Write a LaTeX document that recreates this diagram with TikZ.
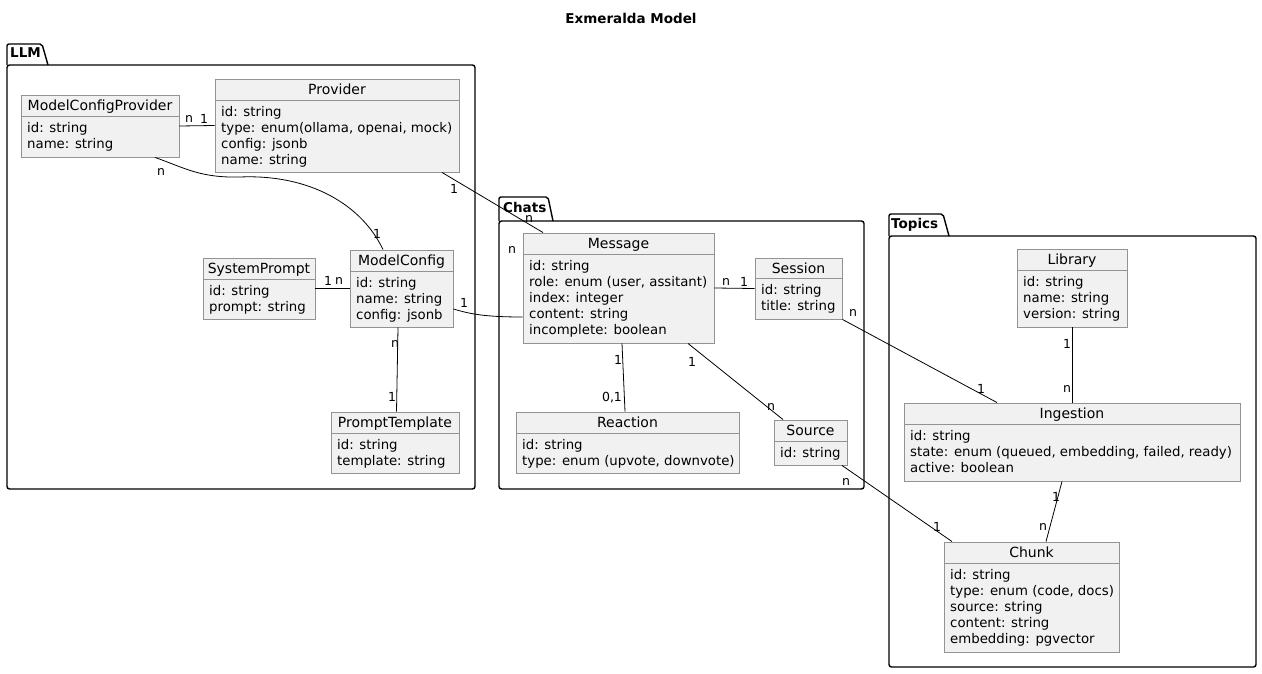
\documentclass[tikz,border=0pt]{standalone}
\usepackage{fontspec}
\setmainfont{DejaVu Sans}
\usetikzlibrary{fit,calc}
\definecolor{boxfill}{HTML}{F1F1F1}
\definecolor{boxline}{HTML}{939393}
\tikzset{
  clsbox/.style={draw=boxline, fill=boxfill, line width=0.9pt, inner sep=0pt},
  clssep/.style={draw=boxline, line width=0.9pt},
  clstitle/.style={font=\fontsize{14}{16}\selectfont, anchor=base, inner sep=0pt},
  clsattr/.style={font=\fontsize{13.3}{16}\selectfont, anchor=north west, align=left, inner sep=0pt},
  pkgbody/.style={draw=black, line width=1.4pt, rounded corners=2.5pt, inner sep=0pt},
  pkgtab/.style={draw=black, line width=1.4pt, rounded corners=2pt},
  pkglabel/.style={font=\bfseries\fontsize{13.5}{16}\selectfont, anchor=base west, inner sep=0pt},
  conn/.style={draw=black, line width=0.8pt},
  mult/.style={font=\fontsize{12.5}{14}\selectfont, inner sep=0pt},
}
% #1 name, #2 left, #3 top, #4 right, #5 bottom, #6 separator y, #7 title, #8 attributes
\newcommand\umlcls[8]{%
  \node[clsbox, fit={(#2,#3) (#4,#5)}] (#1) {};
  \draw[clssep] (#2,#6) -- (#4,#6);
  \node[clstitle] (#1-title) at ({(#2+#4)/2},{#3+15.5}) {#7};
  \node[clsattr] (#1-attrs) at ({#2+6},{#6+4.5}) {\rule{0pt}{12pt}#8};
}
\begin{document}
\begin{tikzpicture}[x=1pt,y=-1pt]
\useasboundingbox[fill=white] (0,0) rectangle (1262,674);

\node[font=\bfseries\fontsize{13.5}{16}\selectfont, inner sep=0pt] (title) at (631,18) {Exmeralda Model};

% packages
\draw[pkgtab] (7,65) |- (42,44) -- (48,65);
\node[pkgbody, fit={(7,65) (475,489)}] (llm) {};
\node[pkglabel] (llm-label) at (10,58) {LLM};

\draw[pkgtab] (499,221) |- (548,197) -- (553,221);
\node[pkgbody, fit={(499,221) (864,489)}] (chats) {};
\node[pkglabel] (chats-label) at (503,212) {Chats};

\draw[pkgtab] (889,236) |- (943,214) -- (949,236);
\node[pkgbody, fit={(889,236) (1256,667)}] (topics) {};
\node[pkglabel] (topics-label) at (891,229) {Topics};

% classes
\umlcls{mcp}{21}{95}{179}{157}{116}{ModelConfigProvider}{id: string\\name: string}
\umlcls{prov}{215}{79}{459}{172}{100}{Provider}{id: string\\type: enum(ollama, openai, mock)\\config: jsonb\\name: string}
\umlcls{sp}{203}{258}{315}{319}{279}{SystemPrompt}{id: string\\prompt: string}
\umlcls{mc}{350}{250}{453}{327}{271}{ModelConfig}{id: string\\name: string\\config: jsonb}
\umlcls{pt}{331}{412}{459}{473}{433}{PromptTemplate}{id: string\\template: string}
\umlcls{msg}{523}{233}{714}{343}{254}{Message}{id: string\\role: enum (user, assitant)\\index: integer\\content: string\\incomplete: boolean}
\umlcls{ses}{755}{258}{842}{319}{278}{Session}{id: string\\title: string}
\umlcls{rea}{516}{412}{739}{473}{433}{Reaction}{id: string\\type: enum (upvote, downvote)}
\umlcls{src}{774}{420}{847}{465}{441}{Source}{id: string}
\umlcls{lib}{1017}{249}{1127}{327}{270}{Library}{id: string\\name: string\\version: string}
\umlcls{ing}{904}{403}{1240}{481}{424}{Ingestion}{id: string\\state: enum (queued, embedding, failed, ready)\\active: boolean}
\umlcls{chk}{944}{542}{1119}{652}{563}{Chunk}{id: string\\type: enum (code, docs)\\source: string\\content: string\\embedding: pgvector}

% connectors
\draw[conn] (mcp.east) -- (prov.west);
\draw[conn] ([xshift=55pt]mcp.south) .. controls (185,168) and (200,178) .. (240,177)
  .. controls (310,174) and (362,205) .. ([xshift=-18.5pt]mc.north);
\draw[conn] ([xshift=105pt]prov.south) -- ([xshift=-75.5pt]msg.north);
\draw[conn] ([yshift=-20.5pt]mc.east) .. controls (470,314) and (485,317) .. ([yshift=-29pt]msg.west);
\draw[conn] (sp.east) -- (mc.west);
\draw[conn] ([xshift=-3.5pt]mc.south) -- ([xshift=1.5pt]pt.north);
\draw[conn] (msg.east) -- (ses.west);
\draw[conn] ([xshift=3.5pt]msg.south) -- ([xshift=-2.5pt]rea.north);
\draw[conn] ([xshift=69.5pt]msg.south) -- ([xshift=-27.5pt]src.north);
\draw[conn] (ses.south east) -- ([xshift=-75pt]ing.north);
\draw[conn] (lib.south) -- (ing.north);
\draw[conn] ([xshift=-10pt]ing.south) -- ([xshift=14.5pt]chk.north);
\draw[conn] ([xshift=31.5pt]src.south) -- ([xshift=-79.5pt]chk.north);

% multiplicities
\node[mult] (m1a) at (189,119) {n};
\node[mult] (m1b) at (204,119) {1};
\node[mult] (m2a) at (161,172) {n};
\node[mult] (m2b) at (377,234) {1};
\node[mult] (m3a) at (454,189) {1};
\node[mult] (m3b) at (529,219) {n};
\node[mult] (m4a) at (464,303) {1};
\node[mult] (m4b) at (512,250) {n};
\node[mult] (m5a) at (328,281) {1};
\node[mult] (m5b) at (339,281) {n};
\node[mult] (m6a) at (395,344) {n};
\node[mult] (m6b) at (392,397) {1};
\node[mult] (m7a) at (726,282) {n};
\node[mult] (m7b) at (744,282) {1};
\node[mult] (m8a) at (618,360) {1};
\node[mult] (m8b) at (612,398) {0,1};
\node[mult] (m9a) at (692,362) {1};
\node[mult] (m9b) at (771,407) {n};
\node[mult] (m10a) at (853,313) {n};
\node[mult] (m10b) at (981,389) {1};
\node[mult] (m11a) at (1067,344) {1};
\node[mult] (m11b) at (1067,389) {n};
\node[mult] (m12a) at (1056,497) {1};
\node[mult] (m12b) at (1043,527) {n};
\node[mult] (m13a) at (846,482) {n};
\node[mult] (m13b) at (937,527) {1};
\end{tikzpicture}
\end{document}
